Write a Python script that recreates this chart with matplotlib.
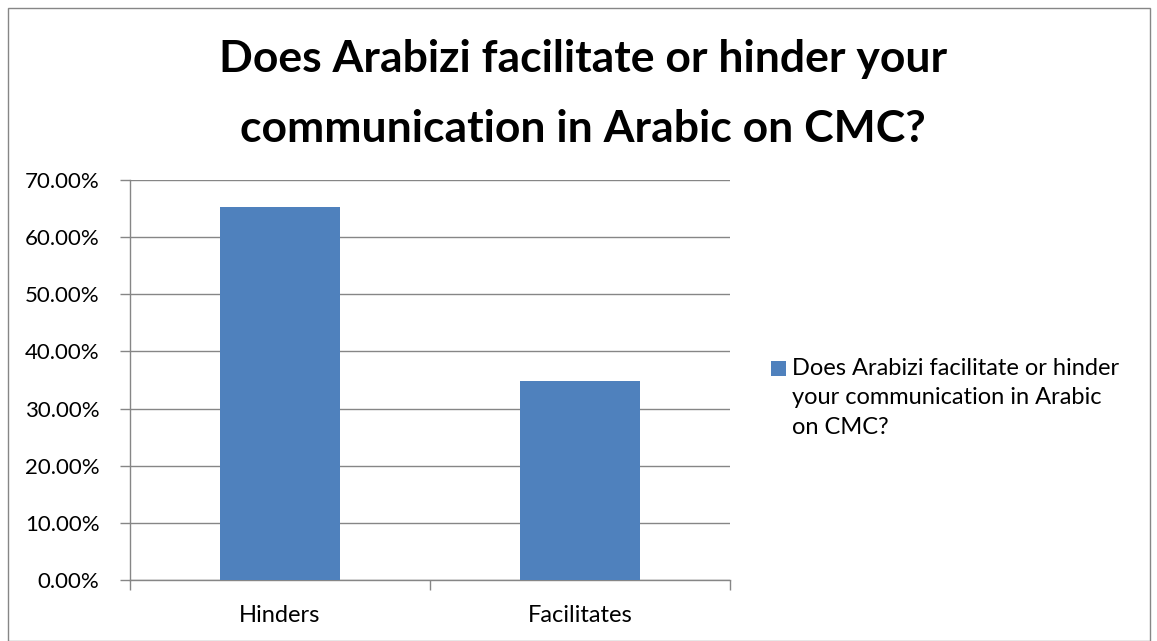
import matplotlib
matplotlib.use("Agg")
import matplotlib.pyplot as plt
from matplotlib.patches import Rectangle
from matplotlib.ticker import FuncFormatter, MultipleLocator

categories = ["Hinders", "Facilitates"]
shares = [65.2, 34.8]
series_name = "Does Arabizi facilitate or hinder your communication in Arabic on CMC?"
title = "Does Arabizi facilitate or hinder your\ncommunication in Arabic on CMC?"
legend_lines = "Does Arabizi facilitate or hinder\nyour communication in Arabic\non CMC?"

BAR = "#4f81bd"
GRID = "#868686"
FONT = ["Lato", "DejaVu Sans"]

W, H = 1157, 641
fig = plt.figure(figsize=(W / 100, H / 100), dpi=100)
plt.rcParams["font.family"] = FONT

# outer chart frame
fig.patches.append(Rectangle((8 / W, 0), (1150 - 8) / W, 1 - 8 / H, transform=fig.transFigure,
                             fill=False, edgecolor=GRID, linewidth=1.0))

ax = fig.add_axes([130 / W, 1 - 580 / H, 600 / W, 400 / H])
x = list(range(len(categories)))
ax.bar(x, shares, width=0.4, color=BAR, zorder=3, label=series_name)

ax.set_xlim(-0.5, len(categories) - 0.5)
ax.set_ylim(0, 70)
ax.yaxis.set_major_locator(MultipleLocator(10))
ax.yaxis.set_major_formatter(FuncFormatter(lambda v, p: f"{v:.2f}%"))
ax.grid(axis="y", color=GRID, linewidth=1.0, zorder=0)
ax.set_axisbelow(True)

ax.set_xticks(x)
ax.set_xticklabels(categories, fontsize=17)
ax.tick_params(axis="x", length=0, pad=18)
# category boundary tick marks
ax.set_xticks([-0.5, 0.5, 1.5], minor=True)
ax.tick_params(axis="x", which="minor", length=7, color=GRID, width=1.0)
ax.tick_params(axis="y", length=7, color=GRID, width=1.0, labelsize=16, pad=15)

for s in ["top", "right"]:
    ax.spines[s].set_visible(False)
for s in ["left", "bottom"]:
    ax.spines[s].set_color(GRID)
    ax.spines[s].set_linewidth(1.0)

fig.text(583 / W, 1 - 94 / H, title, ha="center", va="center", fontsize=32,
         fontweight="bold", linespacing=1.9)

# legend entry
fig.patches.append(Rectangle((771 / W, 1 - 376 / H), 15 / W, 15 / H, transform=fig.transFigure,
                             facecolor=BAR, edgecolor="none"))
fig.text(792 / W, 1 - 358 / H, legend_lines, ha="left", va="top", fontsize=17, linespacing=1.5)

fig.savefig("out.png", dpi=100)
